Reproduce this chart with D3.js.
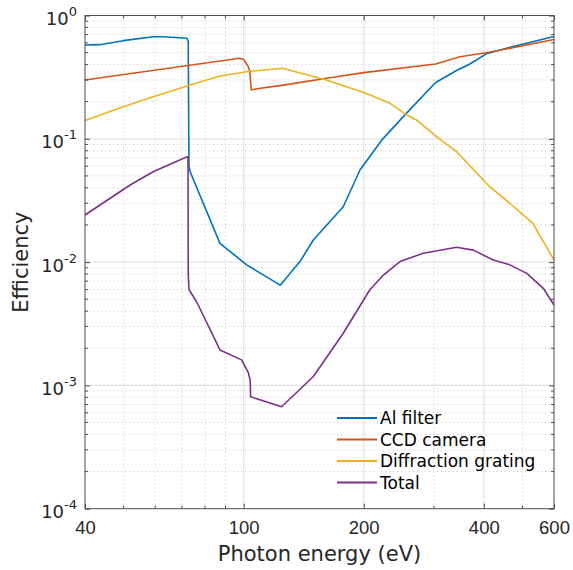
<!DOCTYPE html>
<html>
<head>
<meta charset="utf-8">
<script src="https://cdn.jsdelivr.net/npm/d3@7"></script>
<style>
  body { margin: 0; background: #fff; }
  svg { font-family: "DejaVu Sans", sans-serif; }
</style>
</head>
<body>
<svg id="chart" width="573" height="570"></svg>
<script>
// photon energy (eV) / efficiency
const alFilterE = [40, 43.6, 49.9, 59.3, 62.9, 72.1, 72.6, 72.9, 73.4, 87.2, 101.7, 123.5, 138.4, 149.5, 177.7, 195.7, 221.8, 254, 303, 341, 369, 406, 485, 600];
const alFilterV = [0.577, 0.58, 0.625, 0.673, 0.673, 0.653, 0.62, 0.06, 0.054, 0.0142, 0.0095, 0.0065, 0.0101, 0.0151, 0.0281, 0.0558, 0.0975, 0.157, 0.286, 0.356, 0.404, 0.489, 0.572, 0.675];

const ccdE = [40, 97.6, 100, 102.7, 103.6, 104.5, 109, 123.3, 164.6, 200, 303, 348.6, 406, 600];
const ccdV = [0.30, 0.45, 0.441, 0.385, 0.35, 0.249, 0.256, 0.27, 0.313, 0.344, 0.404, 0.463, 0.498, 0.638];

const gratingE = [40, 49.9, 59.3, 73.4, 87.2, 101.7, 125, 159, 201, 232.8, 254, 271.5, 309, 342, 414, 465, 531, 600];
const gratingV = [0.141, 0.182, 0.2195, 0.273, 0.323, 0.35, 0.373, 0.304, 0.236, 0.194, 0.159, 0.142, 0.1005, 0.0786, 0.0409, 0.030, 0.0206, 0.0104];

const totalE = [40, 51.9, 59.3, 72.1, 72.5, 72.6, 72.9, 76.2, 87.2, 98.8, 102.7, 103.8, 104.1, 124.5, 149.5, 177.7, 207, 224, 246.6, 282, 342, 376.6, 422.6, 465, 513, 564, 600];
const totalV = [0.0241, 0.0422, 0.0541, 0.0716, 0.0716, 0.0081, 0.006, 0.00477, 0.00194, 0.00161, 0.00127, 0.0011, 0.000809, 0.000671, 0.00118, 0.00265, 0.00594, 0.00785, 0.0101, 0.0118, 0.0132, 0.0125, 0.0104, 0.0095, 0.0081, 0.00613, 0.00449];

const seriesNames = ["Al filter", "CCD camera", "Diffraction grating", "Total"];
const seriesColors = ["#0072BD", "#D95319", "#EDB120", "#7E2F8E"];
const xTicks = [40, 100, 200, 400, 600];
const yTicks = [1e-4, 1e-3, 1e-2, 1e-1, 1];

const svg = d3.select("#chart");
const margin = { left: 85, right: 19, top: 15.5, bottom: 61.3 };
const W = +svg.attr("width"), H = +svg.attr("height");

const x = d3.scaleLog().domain([40, 600]).range([margin.left, W - margin.right]);
const y = d3.scaleLog().domain([1e-4, 1]).range([H - margin.bottom, margin.top]);

// minor values for grid
const xMinor = [50, 60, 70, 80, 90, 300, 500];
const yMinor = [];
for (let p = -4; p < 0; p++) for (let m = 2; m <= 9; m++) yMinor.push(m * Math.pow(10, p));

const grid = svg.append("g");
grid.selectAll(".xminor").data(xMinor).enter().append("line")
  .attr("x1", d => x(d)).attr("x2", d => x(d))
  .attr("y1", y(1e-4)).attr("y2", y(1))
  .attr("stroke", "#c8c8c8").attr("stroke-width", 1).attr("stroke-dasharray", "1,3");
grid.selectAll(".yminor").data(yMinor).enter().append("line")
  .attr("y1", d => y(d)).attr("y2", d => y(d))
  .attr("x1", x(40)).attr("x2", x(600))
  .attr("stroke", "#c8c8c8").attr("stroke-width", 1).attr("stroke-dasharray", "1,3");
grid.selectAll(".xmajor").data(xTicks.slice(1, -1)).enter().append("line")
  .attr("x1", d => x(d)).attr("x2", d => x(d))
  .attr("y1", y(1e-4)).attr("y2", y(1))
  .attr("stroke", "#e3e3e3").attr("stroke-width", 1.2);
grid.selectAll(".ymajor").data(yTicks.slice(1, -1)).enter().append("line")
  .attr("y1", d => y(d)).attr("y2", d => y(d))
  .attr("x1", x(40)).attr("x2", x(600))
  .attr("stroke", "#e3e3e3").attr("stroke-width", 1.2);

// curves
const line = d3.line().x(d => x(d[0])).y(d => y(d[1]));
const allSeries = [
  d3.zip(alFilterE, alFilterV),
  d3.zip(ccdE, ccdV),
  d3.zip(gratingE, gratingV),
  d3.zip(totalE, totalV)
];
svg.append("g").selectAll("path").data(allSeries).enter().append("path")
  .attr("d", line)
  .attr("fill", "none")
  .attr("stroke", (d, i) => seriesColors[i])
  .attr("stroke-width", 1.6)
  .attr("stroke-linejoin", "round");

// axes (ticks inside, box on)
const axisColor = "#4d4d4d";
const textColor = "#262626";
const bottomAxis = d3.axisBottom(x).tickValues(xTicks).tickSizeInner(-5).tickSizeOuter(0).tickFormat(d3.format("d"));
const gx = svg.append("g").attr("transform", `translate(0,${y(1e-4)})`).call(bottomAxis);
gx.selectAll("text").attr("font-size", 18.5).attr("fill", textColor).attr("y", 7).attr("dy", "1em");
const topAxis = d3.axisTop(x).tickValues(xTicks).tickSizeInner(-5).tickSizeOuter(0).tickFormat("");
svg.append("g").attr("transform", `translate(0,${y(1)})`).call(topAxis);

const leftAxis = d3.axisLeft(y).tickValues(yTicks).tickSizeInner(-5).tickSizeOuter(0).tickFormat("");
svg.append("g").attr("transform", `translate(${x(40)},0)`).call(leftAxis);
const rightAxis = d3.axisRight(y).tickValues(yTicks).tickSizeInner(-5).tickSizeOuter(0).tickFormat("");
svg.append("g").attr("transform", `translate(${x(600)},0)`).call(rightAxis);

// minor tick marks on all sides
const minorTicks = svg.append("g").attr("stroke", axisColor);
yMinor.forEach(v => {
  minorTicks.append("line").attr("x1", x(40)).attr("x2", x(40) + 3).attr("y1", y(v)).attr("y2", y(v));
  minorTicks.append("line").attr("x1", x(600)).attr("x2", x(600) - 3).attr("y1", y(v)).attr("y2", y(v));
});
xMinor.forEach(v => {
  minorTicks.append("line").attr("x1", x(v)).attr("x2", x(v)).attr("y1", y(1e-4)).attr("y2", y(1e-4) - 3);
  minorTicks.append("line").attr("x1", x(v)).attr("x2", x(v)).attr("y1", y(1)).attr("y2", y(1) + 3);
});

svg.selectAll(".domain").remove();
svg.selectAll(".tick line").attr("stroke", axisColor);
svg.append("rect")
  .attr("x", x(40)).attr("y", y(1))
  .attr("width", x(600) - x(40)).attr("height", y(1e-4) - y(1))
  .attr("fill", "none").attr("stroke", axisColor).attr("stroke-width", 1);

// y tick labels as 10^n
const yLab = svg.append("g").attr("fill", textColor);
yTicks.forEach(v => {
  const p = Math.round(Math.log10(v));
  const t = yLab.append("text")
    .attr("x", x(40) - 8).attr("y", y(v) + 9.5)
    .attr("text-anchor", "end").attr("font-size", 18);
  t.append("tspan").text("10");
  t.append("tspan").attr("dy", -9).attr("font-size", 13).text(p === 0 ? "0" : "-" + Math.abs(p));
});

// axis titles
svg.append("text")
  .attr("x", (x(40) + x(600)) / 2).attr("y", 561)
  .attr("text-anchor", "middle").attr("font-size", 21).attr("fill", textColor)
  .text("Photon energy (eV)");
svg.append("text")
  .attr("transform", `translate(28,${(y(1) + y(1e-4)) / 2}) rotate(-90)`)
  .attr("text-anchor", "middle").attr("font-size", 21).attr("fill", textColor)
  .text("Efficiency");

// legend
const legend = svg.append("g").attr("transform", "translate(337,418)");
seriesNames.forEach((name, i) => {
  const g = legend.append("g").attr("transform", `translate(0,${i * 21.5})`);
  g.append("line").attr("x1", 0).attr("x2", 40).attr("y1", 0).attr("y2", 0)
    .attr("stroke", seriesColors[i]).attr("stroke-width", 2);
  g.append("text").attr("x", 43).attr("y", 6).attr("font-size", 17).attr("fill", "#000").text(name);
});
</script>
</body>
</html>
